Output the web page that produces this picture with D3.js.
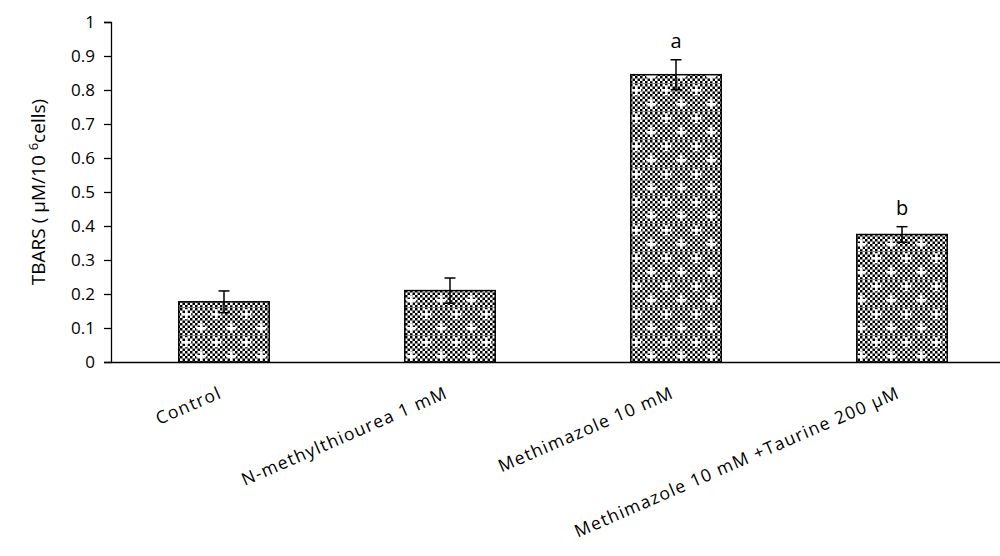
<!DOCTYPE html>
<html>
<head>
<meta charset="utf-8">
<script src="https://cdn.jsdelivr.net/npm/d3@7"></script>
<style>
  html, body { margin: 0; padding: 0; background: #fff; }
  svg { display: block; }
  text { font-family: "Open Sans", "Noto Sans", sans-serif; fill: #000; }
</style>
</head>
<body>
<svg id="chart" width="1000" height="556"></svg>
<script>
// TBARS per treatment group, mean and error
const categories = ["Control", "N-methylthiourea 1 mM", "Methimazole 10 mM", "Methimazole 10 mM +Taurine 200  µM"];
const values = [0.177, 0.21, 0.845, 0.375];
const errors = [0.032, 0.037, 0.044, 0.023];
const letters = ["", "", "a", "b"];
const yTicks = [0, 0.1, 0.2, 0.3, 0.4, 0.5, 0.6, 0.7, 0.8, 0.9, 1];

const svg = d3.select("#chart");
const margin = { left: 111, right: -15, top: 22, bottom: 194 };
const W = 1000, H = 556;

const x = d3.scaleBand()
  .domain(categories)
  .range([margin.left, W - margin.right])
  .paddingInner(0.6)
  .paddingOuter(0.3);

const y = d3.scaleLinear()
  .domain([0, 1])
  .range([H - margin.bottom, margin.top]);

// checkerboard fill with a lattice of white crosses
const defs = svg.append("defs");
const cell = 2.5;
const checker = defs.append("pattern")
  .attr("id", "checker")
  .attr("patternUnits", "userSpaceOnUse")
  .attr("width", cell * 2).attr("height", cell * 2);
checker.append("rect").attr("width", cell * 2).attr("height", cell * 2).attr("fill", "#fff");
checker.append("rect").attr("width", cell).attr("height", cell).attr("fill", "#000");
checker.append("rect").attr("x", cell).attr("y", cell).attr("width", cell).attr("height", cell).attr("fill", "#000");

const fill = defs.append("pattern")
  .attr("id", "barFill")
  .attr("patternUnits", "userSpaceOnUse")
  .attr("width", cell * 12).attr("height", cell * 11.2);
fill.append("rect").attr("width", cell * 12).attr("height", cell * 11.2).attr("fill", "url(#checker)");
[[cell * 2, cell * 2], [cell * 8, cell * 7.6]].forEach(([cx, cy]) => {
  fill.append("rect").attr("x", cx - cell * 1.5).attr("y", cy).attr("width", cell * 4).attr("height", cell).attr("fill", "#fff");
  fill.append("rect").attr("x", cx).attr("y", cy - cell * 1.5).attr("width", cell).attr("height", cell * 4).attr("fill", "#fff");
});

// bars
svg.append("g").selectAll("rect")
  .data(categories)
  .join("rect")
  .attr("x", d => x(d))
  .attr("y", (d, i) => y(values[i]))
  .attr("width", x.bandwidth())
  .attr("height", (d, i) => y(0) - y(values[i]))
  .attr("fill", "url(#barFill)")
  .attr("stroke", "#000")
  .attr("stroke-width", 1.5);

// error bars
const eb = svg.append("g").attr("stroke", "#000").attr("stroke-width", 1.5);
categories.forEach((c, i) => {
  const cx = x(c) + x.bandwidth() / 2;
  eb.append("line").attr("x1", cx).attr("x2", cx)
    .attr("y1", y(values[i] - errors[i])).attr("y2", y(values[i] + errors[i]));
  eb.append("line").attr("x1", cx - 5.5).attr("x2", cx + 5.5)
    .attr("y1", y(values[i] + errors[i])).attr("y2", y(values[i] + errors[i]));
  eb.append("line").attr("x1", cx - 5.5).attr("x2", cx + 5.5)
    .attr("y1", y(values[i] - errors[i])).attr("y2", y(values[i] - errors[i]));
});

// significance letters
svg.append("g").selectAll("text")
  .data(categories)
  .join("text")
  .attr("x", d => x(d) + x.bandwidth() / 2)
  .attr("y", (d, i) => y(values[i] + errors[i]) - 12)
  .attr("text-anchor", "middle")
  .attr("font-size", 20)
  .text((d, i) => letters[i]);

// y axis
const yAxis = svg.append("g")
  .attr("transform", `translate(${margin.left},0)`)
  .call(d3.axisLeft(y).tickValues(yTicks).tickFormat(d3.format("")).tickSizeOuter(0).tickSize(7).tickPadding(9));
yAxis.select(".domain").attr("stroke", "#000").attr("stroke-width", 1.3);
yAxis.selectAll(".tick line").attr("stroke", "#000").attr("stroke-width", 1.3);
yAxis.selectAll(".tick text").attr("font-size", 17).attr("font-family", "'Open Sans', sans-serif");

// x axis
const xAxis = svg.append("g")
  .attr("transform", `translate(0,${y(0)})`)
  .call(d3.axisBottom(x).tickSize(0).tickSizeOuter(0).tickPadding(0));
xAxis.select(".domain").attr("stroke", "#000").attr("stroke-width", 1.3)
  .attr("d", `M${margin.left},0.5H${W}`);
xAxis.selectAll(".tick text")
  .attr("font-size", 17.5)
  .attr("letter-spacing", 1.3)
  .attr("font-family", "'Open Sans', sans-serif")
  .attr("text-anchor", "end")
  .attr("dy", "0.7em")
  .attr("transform", "translate(-6,24) rotate(-23.5)");

// y axis title
const title = svg.append("text")
  .attr("transform", "translate(45,192) rotate(-90)")
  .attr("text-anchor", "middle")
  .attr("font-size", 19);
title.append("tspan").text("TBARS ( µM/10 ");
title.append("tspan").attr("font-size", 13).attr("dy", -7).text("6");
title.append("tspan").attr("dy", 7).text("cells)");
</script>
</body>
</html>
